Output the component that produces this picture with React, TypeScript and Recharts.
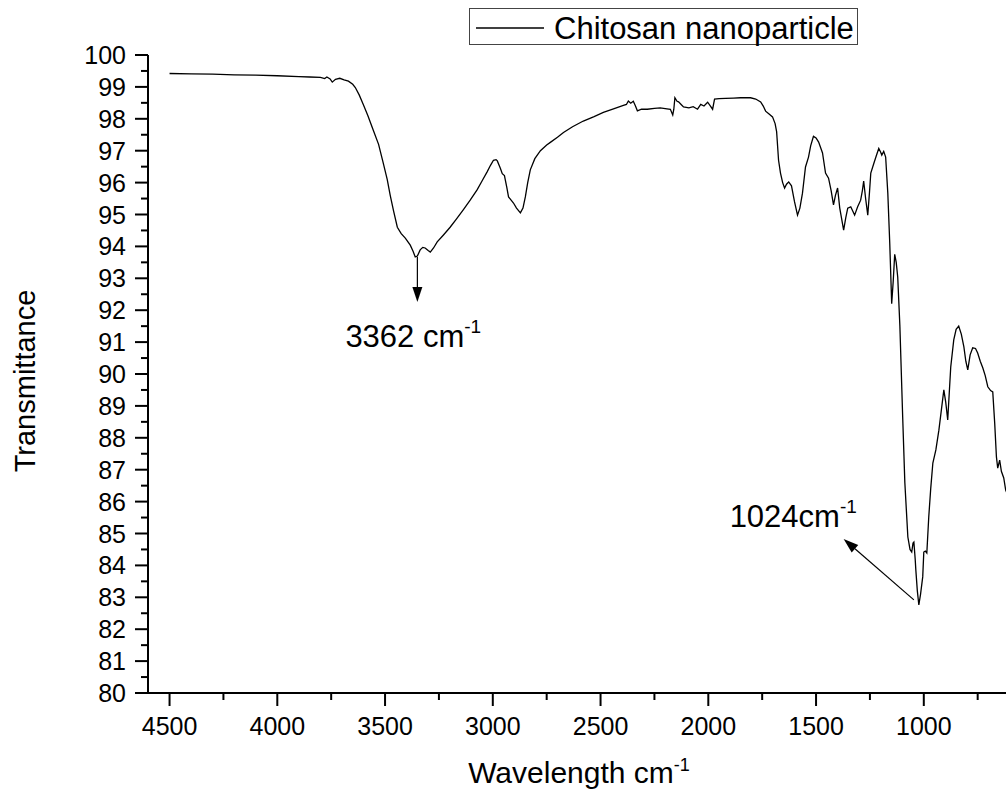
import React from 'react';
import { LineChart, Line, XAxis, YAxis, ReferenceLine } from 'recharts';

// FTIR spectrum
const wavenumber = [
  4500, 4400, 4300, 4200, 4100, 4000, 3900, 3850, 3800, 3780, 3770, 3755, 3745, 3730, 3710, 3690,
  3670, 3650, 3638, 3620, 3601, 3580, 3555, 3530, 3508, 3490, 3476, 3460, 3443, 3425, 3406, 3383,
  3370, 3360, 3350, 3337, 3325, 3314, 3300, 3290, 3275, 3258, 3230, 3198, 3170, 3138, 3105, 3073,
  3050, 3027, 3010, 2997, 2985, 2979, 2965, 2956, 2946, 2935, 2927, 2915, 2904, 2890, 2872, 2860,
  2849, 2838, 2826, 2805, 2779, 2750, 2733, 2700, 2672, 2630, 2580, 2530, 2487, 2440, 2394, 2380,
  2371, 2360, 2348, 2338, 2329, 2310, 2283, 2250, 2223, 2200, 2176, 2165, 2160, 2155, 2145, 2138,
  2125, 2115, 2090, 2070, 2050, 2035, 2020, 2003, 1990, 1980, 1971, 1950, 1920, 1883, 1850, 1804,
  1780, 1757, 1745, 1734, 1718, 1702, 1690, 1683, 1678, 1674, 1665, 1655, 1646, 1637, 1627, 1614,
  1600, 1586, 1575, 1563, 1549, 1535, 1525, 1512, 1500, 1488, 1470, 1456, 1442, 1430, 1419, 1410,
  1400, 1390, 1372, 1362, 1353, 1339, 1321, 1307, 1293, 1285, 1279, 1270, 1260, 1252, 1246, 1232,
  1220, 1209, 1200, 1195, 1186, 1177, 1167, 1158, 1149, 1142, 1135, 1128, 1121, 1111, 1098, 1088,
  1074, 1064, 1056, 1050, 1046, 1040, 1037, 1030, 1023, 1015, 1005, 1000, 993, 986, 977, 968,
  958, 944, 930, 918, 907, 898, 889, 875, 861, 850, 838, 826, 814, 805, 796, 785,
  773, 760, 750, 738, 726, 715, 703, 690, 680, 671, 663, 657, 648, 640, 629, 620,
  610,
];

const transmittance = [
  99.42, 99.41, 99.4, 99.38, 99.37, 99.35, 99.32, 99.31, 99.3, 99.26, 99.31, 99.25, 99.15, 99.24, 99.27, 99.22,
  99.18, 99.08, 98.98, 98.75, 98.45, 98.1, 97.65, 97.2, 96.6, 96.1, 95.6, 95.1, 94.6, 94.4, 94.26, 94.04,
  93.85, 93.67, 93.7, 93.89, 93.97, 93.95, 93.87, 93.82, 93.95, 94.14, 94.35, 94.6, 94.85, 95.14, 95.45, 95.77,
  96.05, 96.33, 96.55, 96.7, 96.72, 96.68, 96.45, 96.28, 96.22, 95.85, 95.55, 95.45, 95.36, 95.2, 95.05, 95.2,
  95.55, 96.0, 96.4, 96.75, 97.0, 97.18, 97.26, 97.42, 97.57, 97.75, 97.93, 98.07, 98.2, 98.31, 98.42, 98.45,
  98.56, 98.49, 98.55, 98.4, 98.25, 98.3, 98.3, 98.33, 98.34, 98.32, 98.3, 98.12, 98.3, 98.66, 98.55, 98.53,
  98.44, 98.37, 98.34, 98.38, 98.3, 98.45, 98.4, 98.52, 98.4, 98.3, 98.62, 98.63, 98.64, 98.65, 98.66, 98.66,
  98.62, 98.53, 98.4, 98.24, 98.15, 98.06, 97.85, 97.6, 97.1, 96.7, 96.3, 96.0, 95.83, 95.95, 96.02, 95.9,
  95.4, 94.98, 95.2, 95.67, 96.49, 96.8, 97.15, 97.45, 97.4, 97.27, 96.93, 96.3, 96.14, 95.75, 95.3, 95.6,
  95.83, 95.2, 94.51, 94.9, 95.2, 95.24, 94.98, 95.24, 95.45, 95.75, 96.05, 95.5, 94.98, 95.7, 96.3, 96.6,
  96.85, 97.07, 96.95, 96.86, 96.98, 96.8, 95.67, 94.1, 92.2, 92.9, 93.75, 93.5, 93.04, 91.5, 88.65, 86.6,
  84.89, 84.5, 84.42, 84.7, 84.73, 84.2, 83.86, 83.2, 82.76, 83.1, 83.64, 84.42, 84.45, 84.39, 85.52, 86.4,
  87.21, 87.62, 88.24, 88.9, 89.5, 89.1, 88.56, 90.22, 91.07, 91.4, 91.5, 91.25, 90.85, 90.4, 90.13, 90.6,
  90.82, 90.8, 90.66, 90.4, 90.19, 89.95, 89.6, 89.48, 89.44, 88.46, 87.4, 87.05, 87.3, 86.95, 86.74, 86.36,
  86.2,
];

const xMajor = [4500, 4000, 3500, 3000, 2500, 2000, 1500, 1000];
const xMinor = [4250, 3750, 3250, 2750, 2250, 1750, 1250, 750];
const yMajor = [80, 81, 82, 83, 84, 85, 86, 87, 88, 89, 90, 91, 92, 93, 94, 95, 96, 97, 98, 99, 100];
const yMinor = [80.5, 81.5, 82.5, 83.5, 84.5, 85.5, 86.5, 87.5, 88.5, 89.5, 90.5, 91.5, 92.5, 93.5, 94.5, 95.5, 96.5, 97.5, 98.5, 99.5];

const seriesName = 'Chitosan nanoparticle';
const xTitle = 'Wavelength cm';
const yTitle = 'Transmittance';

const data = wavenumber.map((w, i) => ({ w, t: transmittance[i] }));

const FONT = 'Arial, "Liberation Sans", sans-serif';

function XTick({ x, y, payload }: any) {
  const major = xMajor.includes(payload.value);
  return (
    <g>
      <line x1={x} x2={x} y1={y} y2={y + (major ? 13 : 7)} stroke="#000" strokeWidth={2} />
      {major && (
        <text x={x} y={y + 42} textAnchor="middle" fontSize={25} fontFamily={FONT} fill="#000">
          {payload.value}
        </text>
      )}
    </g>
  );
}

function YTick({ x, y, payload }: any) {
  const major = yMajor.includes(payload.value);
  return (
    <g>
      <line x1={x} x2={x - (major ? 13 : 7)} y1={y} y2={y} stroke="#000" strokeWidth={2} />
      {major && (
        <text x={x - 22} y={y} dy="0.36em" textAnchor="end" fontSize={25} fontFamily={FONT} fill="#000">
          {payload.value}
        </text>
      )}
    </g>
  );
}

function Arrow({ x1, y1, x2, y2, text, tx, ty }: any) {
  const a = Math.atan2(y2 - y1, x2 - x1);
  const len = 15;
  const hw = 5;
  const bx = x2 - len * Math.cos(a);
  const by = y2 - len * Math.sin(a);
  const px = -Math.sin(a) * hw;
  const py = Math.cos(a) * hw;
  return (
    <g>
      <line x1={x1} y1={y1} x2={bx} y2={by} stroke="#000" strokeWidth={1.2} />
      <polygon points={`${x2},${y2} ${bx + px},${by + py} ${bx - px},${by - py}`} fill="#000" />
      <text x={x2 + tx} y={y2 + ty} fontSize={31} fontFamily={FONT} fill="#000">
        {text}
        <tspan dy={-14} fontSize={19}>-1</tspan>
      </text>
    </g>
  );
}

export default function App() {
  return (
    <div style={{ position: 'absolute', left: 0, top: 0, width: 1006, height: 801, overflow: 'hidden', background: '#fff' }}>
      <LineChart width={1020} height={801} data={data} margin={{ top: 55, right: 10, bottom: 0, left: 0 }}>
        <XAxis
          dataKey="w"
          type="number"
          domain={[600, 4600]}
          reversed
          allowDataOverflow
          ticks={[...xMajor, ...xMinor]}
          interval={0}
          height={108}
          tickSize={0}
          tickMargin={0}
          axisLine={{ stroke: '#000', strokeWidth: 2 }}
          tickLine={false}
          tick={(p: any) => <XTick {...p} />}
          label={{
            content: (p: any) => {
              const vb = p.viewBox || { x: 148, y: 693, width: 862 };
              return (
                <text x={vb.x + vb.width / 2} y={vb.y + 90} textAnchor="middle" fontSize={30} fontFamily={FONT} fill="#000">
                  {xTitle}
                  <tspan dy={-12} fontSize={18}>-1</tspan>
                </text>
              );
            },
          }}
        />
        <YAxis
          type="number"
          domain={[80, 100]}
          allowDataOverflow
          ticks={[...yMajor, ...yMinor]}
          interval={0}
          width={148}
          tickSize={0}
          tickMargin={0}
          axisLine={{ stroke: '#000', strokeWidth: 2 }}
          tickLine={false}
          tick={(p: any) => <YTick {...p} />}
          label={{
            content: () => (
              <text
                x={35}
                y={381}
                transform="rotate(-90, 35, 381)"
                textAnchor="middle"
                fontSize={29}
                fontFamily={FONT}
                fill="#000"
              >
                {yTitle}
              </text>
            ),
          }}
        />
        <Line
          type="linear"
          dataKey="t"
          stroke="#000"
          strokeWidth={1.3}
          dot={false}
          activeDot={false}
          isAnimationActive={false}
        />
        <ReferenceLine
          segment={[{ x: 3350, y: 93.67 }, { x: 3350, y: 92.26 }]}
          shape={(p: any) => <Arrow {...p} text="3362 cm" tx={-72} ty={45} />}
        />
        <ReferenceLine
          segment={[{ x: 1046, y: 82.92 }, { x: 1372, y: 84.83 }]}
          shape={(p: any) => <Arrow {...p} text="1024cm" tx={-114} ty={-12} />}
        />
      </LineChart>
      <div style={{ position: 'absolute', left: 469, top: 8, width: 389, height: 37, border: '1px solid #444', boxSizing: 'border-box', background: '#fff' }}>
        <svg width={389} height={37} style={{ display: 'block' }}>
          <line x1={6} x2={74} y1={19} y2={19} stroke="#000" strokeWidth={1.3} />
          <text x={84} y={30} fontSize={31} fontFamily={FONT} fill="#000">{seriesName}</text>
        </svg>
      </div>
    </div>
  );
}
